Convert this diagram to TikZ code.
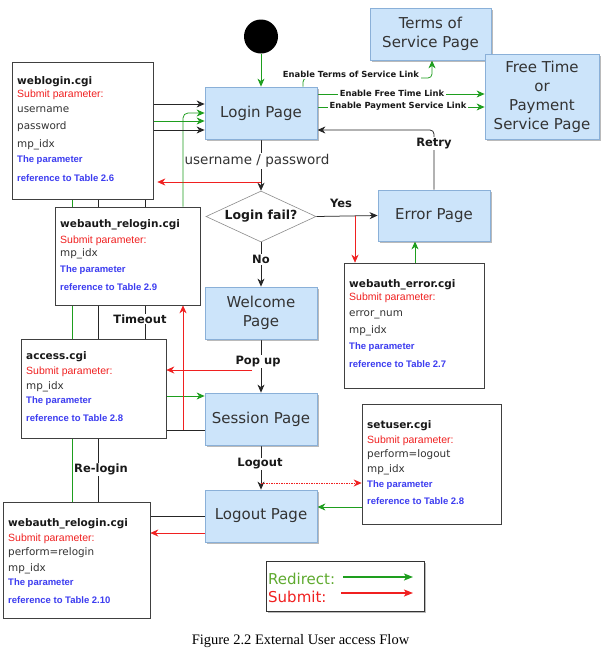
\documentclass[tikz,border=0pt]{standalone}
\usepackage{fontspec}
\setmainfont{DejaVu Sans}
\newfontfamily\arialf{Liberation Sans}
\newfontfamily\capf{Liberation Serif}
\usetikzlibrary{arrows.meta,shapes.geometric,shadows,backgrounds}
\definecolor{pagefill}{HTML}{CCE4FA}
\definecolor{pageborder}{HTML}{8AB0D8}
\definecolor{grn}{HTML}{1E9E1E}
\definecolor{rd}{HTML}{F02020}
\definecolor{blutxt}{HTML}{3C3CF0}
\definecolor{redirg}{HTML}{5FAA2F}
\definecolor{txtgray}{HTML}{333333}
\tikzset{
  pagebox/.style={rectangle, draw=pageborder, fill=pagefill, line width=0.8pt,
    drop shadow={shadow xshift=2pt,shadow yshift=-2pt,fill=black!60,opacity=0.45},
    font=\fontsize{15}{19}\selectfont, text=txtgray, align=center, inner sep=0pt},
  cgibox/.style={rectangle, draw=black!75, fill=white, line width=0.6pt, inner sep=0pt},
  ttl/.style={anchor=base west, inner sep=0pt, font=\bfseries\fontsize{10.5}{12}\selectfont, text=black!90},
  sub/.style={anchor=base west, inner sep=0pt, font=\arialf\fontsize{10.5}{12}\selectfont, text=rd},
  prm/.style={anchor=base west, inner sep=0pt, font=\fontsize{10.4}{12}\selectfont, text=txtgray},
  blu/.style={anchor=base west, inner sep=0pt, font=\arialf\bfseries\fontsize{9.5}{11}\selectfont, text=blutxt},
  lbl/.style={font=\bfseries\fontsize{11.5}{13}\selectfont, fill=white, inner sep=1pt, text=black!90},
  enl/.style={font=\bfseries\fontsize{8.4}{10}\selectfont, fill=white, inner sep=1.5pt, text=black!90},
  conn/.style={line width=0.75pt, -{Stealth[length=8pt,width=7pt,inset=2.5pt]}},
  blk/.style={conn, draw=black!85},
  gline/.style={conn, draw=grn},
  rline/.style={conn, draw=rd},
}
\begin{document}
\begin{tikzpicture}[x=1pt,y=-1pt]
\useasboundingbox (0,0) rectangle (601,654);

% page nodes
\node[circle, fill=black, minimum size=34pt, inner sep=0pt] (start) at (261,36.5) {};
\node[pagebox, minimum width=112pt, minimum height=52pt] (login) at (261,113) {Login Page};
\node[pagebox, minimum width=121pt, minimum height=52pt] (terms) at (430.5,34) {Terms of\\Service Page};
\node[pagebox, minimum width=114pt, minimum height=85pt] (free) at (542,96.5) {Free Time\\or\\Payment\\Service Page};
\node[pagebox, minimum width=112pt, minimum height=51pt] (error) at (434,215.5) {Error Page};
\node[pagebox, minimum width=112pt, minimum height=52pt] (welcome) at (261,313) {Welcome\\Page};
\node[pagebox, minimum width=112pt, minimum height=52pt] (session) at (261,419) {Session Page};
\node[pagebox, minimum width=112pt, minimum height=52pt] (logout) at (261,516) {Logout Page};
\node[diamond, draw=black!45, fill=white, line width=0.6pt, minimum width=110pt, minimum height=51pt, inner sep=0pt, aspect=2.16] (dia) at (261,216.5) {};
\node[font=\bfseries\fontsize{12.5}{14}\selectfont, text=black!90] (diatxt) at (261,216.5) {Login fail?};

% cgi boxes
\node[cgibox, minimum width=141pt, minimum height=137pt] (wl) at (82.5,130.5) {};
\node[ttl] (wl1) at (17,84) {weblogin.cgi};
\node[sub] (wl2) at (17,97) {Submit parameter:};
\node[prm] (wl3) at (17,112.5) {username};
\node[prm] (wl4) at (17,129.5) {password};
\node[prm] (wl5) at (17,147) {mp\_idx};
\node[blu] (wl6) at (17,162) {The parameter};
\node[blu] (wl7) at (17,181) {reference to Table 2.6};

\node[cgibox, minimum width=145pt, minimum height=98pt] (rl1) at (127.5,256) {};
\node[ttl] (ra1) at (60,227) {webauth\_relogin.cgi};
\node[sub] (ra2) at (60,243) {Submit parameter:};
\node[prm] (ra3) at (60,256.5) {mp\_idx};
\node[blu] (ra4) at (60,272) {The parameter};
\node[blu] (ra5) at (60,290) {reference to Table 2.9};

\node[cgibox, minimum width=145pt, minimum height=99pt] (acc) at (93.5,388.5) {};
\node[ttl] (ac1) at (26,359) {access.cgi};
\node[sub] (ac2) at (26,374) {Submit parameter:};
\node[prm] (ac3) at (26,389) {mp\_idx};
\node[blu] (ac4) at (26,403) {The parameter};
\node[blu] (ac5) at (26,421) {reference to Table 2.8};

\node[cgibox, minimum width=147pt, minimum height=116pt] (rl2) at (76.5,560) {};
\node[ttl] (rb1) at (8,526) {webauth\_relogin.cgi};
\node[sub] (rb2) at (8,541) {Submit parameter:};
\node[prm] (rb3) at (8,555) {perform=relogin};
\node[prm] (rb4) at (8,571) {mp\_idx};
\node[blu] (rb5) at (8,585) {The parameter};
\node[blu] (rb6) at (8,603) {reference to Table 2.10};

\node[cgibox, minimum width=140pt, minimum height=125pt] (err) at (414,325.5) {};
\node[ttl] (er1) at (349,287) {webauth\_error.cgi};
\node[sub] (er2) at (349,300) {Submit parameter:};
\node[prm] (er3) at (349,316) {error\_num};
\node[prm] (er4) at (349,333) {mp\_idx};
\node[blu] (er5) at (349,349) {The parameter};
\node[blu] (er6) at (349,367) {reference to Table 2.7};

\node[cgibox, minimum width=139pt, minimum height=120pt] (su) at (431.5,464) {};
\node[ttl] (su1) at (367,428) {setuser.cgi};
\node[sub] (su2) at (367,443) {Submit parameter:};
\node[prm] (su3) at (367,457) {perform=logout};
\node[prm] (su4) at (367,472) {mp\_idx};
\node[blu] (su5) at (367,487) {The parameter};
\node[blu] (su6) at (367,504) {reference to Table 2.8};

% labels
\node[enl] (lterms) at (351,74.5) {Enable Terms of Service Link};
\node[enl] (lfree) at (392,93) {Enable Free Time Link};
\node[enl] (lpay) at (398,106.5) {Enable Payment Service Link};
\node[lbl] (lretry) at (434,143.5) {Retry};
\node[fill=white, inner sep=1pt, font=\fontsize{13.5}{15}\selectfont, text=txtgray] (luser) at (257,161) {username / password};
\node[lbl, fill=none] (lyes) at (341,203) {Yes};
\node[lbl] (lno) at (261,259.5) {No};
\node[lbl] (lpop) at (258,361.5) {Pop up};
\node[lbl] (ltime) at (140,319) {Timeout};
\node[lbl] (llogout) at (260,464) {Logout};
\node[lbl] (lrelog) at (101,469.5) {Re-login};

% legend
\node[rectangle, draw=black!80, fill=white, line width=0.7pt, minimum width=158pt, minimum height=50pt,
  drop shadow={shadow xshift=2pt,shadow yshift=-2pt,fill=black!60,opacity=0.45}] (leg) at (345,586) {};
\node[anchor=base west, inner sep=0pt, font=\fontsize{15}{17}\selectfont, text=redirg] (legr) at (268,584) {Redirect:};
\node[anchor=base west, inner sep=0pt, font=\fontsize{15}{17}\selectfont, text=rd] (legs) at (268,602) {Submit:};
\coordinate (lgA) at (413,577);
\coordinate (lgB) at (413,593);

% caption
\node[font=\capf\fontsize{14.5}{16}\selectfont] (cap) at (300.5,641) {Figure 2.2 External User access Flow};

% connectors
\begin{scope}[on background layer]
\fill[white] (0,0) rectangle (601,654);
\draw[gline] (start.south) -- (login.north);
\draw[gline, rounded corners=4pt] (login.north -| 303,0) -- (303,78) -| (terms.south -| 432,0);
\draw[gline] (login.east |- 0,94) -- (free.west |- 0,94);
\draw[gline] (login.east |- 0,107) -- (free.west |- 0,107);
\draw[blk, rounded corners=4pt] (error.north) |- (login.east |- 0,130);
\draw[blk] (login.south) -- (dia.north);
\draw[rline, shorten >=4pt] (261,182) -- (wl.east |- 0,182);
\draw[blk] (dia.east) -- (error.west);
\draw[rline] (355,216) -- (err.north -| 355,0);
\draw[gline] (err.north -| 415,0) -- (error.south -| 415,0);
\draw[blk] (dia.south) -- (welcome.north);
\draw[blk] (welcome.south) -- (session.north);
\draw[rline] (252,370) -- (acc.east |- 0,370);
\draw[gline] (acc.east |- 0,396) -- (session.west |- 0,396);
\draw[blk] (session.west |- 0,430) -| (145,104) -- (login.west |- 0,104);
\draw[rline] (183,430) -- (rl1.south -| 183,0);
\draw[gline, rounded corners=5pt] (rl1.north -| 183,0) |- (login.west |- 0,113);
\draw[blk] (session.south) -- (logout.north);
\draw[rline, line width=1pt, dash pattern=on 1.5pt off 1pt] (261,483) -- (su.west |- 0,483);
\draw[gline] (su.west |- 0,507) -- (logout.east |- 0,507);
\draw[blk] (logout.west |- 0,516) -| (98,130) -- (login.west |- 0,130);
\draw[rline] (logout.west |- 0,533) -- (rl2.east |- 0,533);
\draw[gline] (rl2.north -| 72,0) -- (72,121) -- (login.west |- 0,121);
\end{scope}
\draw[gline, line width=1.3pt, -{Stealth[length=9pt,width=7pt,inset=2pt]}] (lgA -| 343,0) -- (lgA);
\draw[rline, line width=1.3pt, -{Stealth[length=9pt,width=7pt,inset=2pt]}] (lgB -| 341,0) -- (lgB);
\end{tikzpicture}
\end{document}
